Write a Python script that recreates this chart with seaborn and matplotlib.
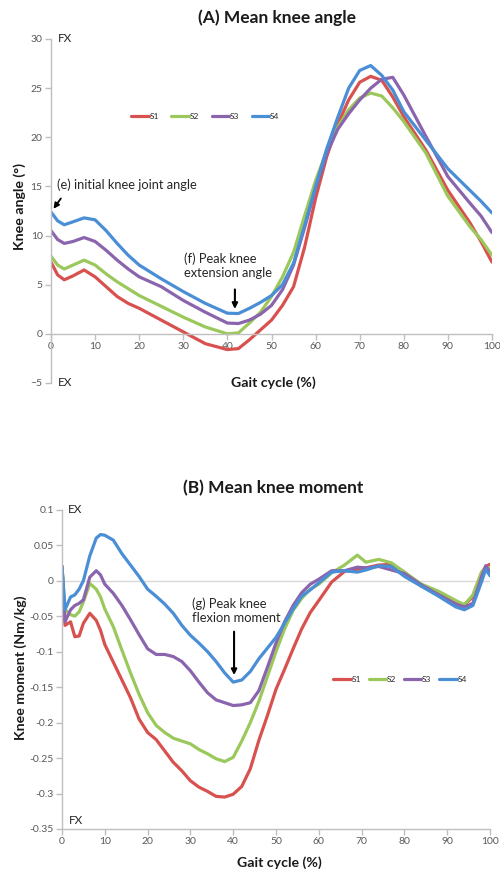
import numpy as np
import pandas as pd
import matplotlib
matplotlib.use("Agg")
import matplotlib.pyplot as plt
import seaborn as sns

# ---------------- data ----------------
series = ["S1", "S2", "S3", "S4"]
colors = ["#D9514E", "#9BC85A", "#8B64AE", "#4A8ED6"]

angle_x = [0, 1.5, 3, 5, 7.5, 10, 12.5, 15, 17.5, 20, 25, 30, 35, 40, 42.5, 45, 47.5,
           50, 52.5, 55, 57.5, 60, 62.5, 65, 67.5, 70, 72.5, 75, 77.5, 80, 85, 90, 95, 97.5, 100]
angle_s1 = [7.3, 6.0, 5.5, 5.9, 6.5, 5.8, 4.8, 3.8, 3.1, 2.6, 1.4, 0.2, -1.0, -1.6, -1.5, -0.6, 0.4,
            1.4, 2.9, 4.8, 8.8, 13.8, 18.0, 21.3, 23.8, 25.6, 26.2, 25.8, 24.1, 22.1, 18.7, 14.6, 11.3, 9.4, 7.3]
angle_s2 = [7.9, 7.0, 6.6, 7.0, 7.5, 7.0, 6.1, 5.3, 4.6, 3.9, 2.8, 1.7, 0.7, 0.0, 0.1, 1.1, 2.2,
            3.8, 5.8, 8.3, 12.0, 15.6, 18.6, 21.0, 22.8, 24.0, 24.5, 24.2, 23.0, 21.6, 18.4, 14.0, 10.9, 9.6, 8.0]
angle_s3 = [10.5, 9.6, 9.2, 9.4, 9.8, 9.4, 8.5, 7.5, 6.6, 5.8, 4.8, 3.4, 2.2, 1.1, 1.05, 1.4, 2.0,
            2.9, 4.5, 7.0, 10.8, 14.8, 18.3, 20.8, 22.4, 23.8, 25.0, 25.9, 26.1, 24.3, 20.1, 16.0, 13.3, 12.0, 10.3]
angle_s4 = [12.4, 11.5, 11.1, 11.4, 11.8, 11.6, 10.5, 9.2, 8.0, 7.0, 5.6, 4.3, 3.1, 2.1, 2.07, 2.6, 3.2,
            3.9, 5.0, 7.2, 11.0, 15.0, 18.8, 22.0, 25.0, 26.8, 27.3, 26.3, 24.8, 22.6, 19.7, 16.8, 14.6, 13.5, 12.3]

moment_x = [0, 0.7, 2, 3, 4, 5, 6.5, 8, 9, 10, 12, 14, 16, 18, 20, 22, 24, 26, 28, 30, 32, 34, 36, 38,
            40, 42, 44, 46, 48, 50, 52, 54, 56, 58, 60, 63, 66, 69, 71, 74, 77, 80, 84, 88, 92, 94, 96, 98, 99, 100]
moment_s1 = [0.020, -0.063, -0.058, -0.079, -0.078, -0.060, -0.046, -0.056, -0.070, -0.090, -0.115, -0.140,
             -0.165, -0.195, -0.214, -0.224, -0.240, -0.256, -0.268, -0.282, -0.291, -0.297, -0.304, -0.305,
             -0.301, -0.290, -0.265, -0.225, -0.190, -0.153, -0.125, -0.096, -0.068, -0.045, -0.028, -0.002,
             0.013, 0.016, 0.018, 0.022, 0.023, 0.012, -0.008, -0.017, -0.030, -0.034, -0.023, 0.005, 0.020, 0.023]
moment_s2 = [0.020, -0.041, -0.048, -0.050, -0.044, -0.030, -0.004, -0.012, -0.023, -0.040, -0.065, -0.098,
             -0.130, -0.160, -0.186, -0.204, -0.214, -0.222, -0.226, -0.230, -0.238, -0.244, -0.251, -0.255,
             -0.249, -0.226, -0.200, -0.170, -0.135, -0.100, -0.068, -0.042, -0.025, -0.012, -0.005, 0.011,
             0.022, 0.036, 0.026, 0.030, 0.025, 0.012, -0.005, -0.015, -0.028, -0.034, -0.020, 0.012, 0.019, 0.018]
moment_s3 = [0.020, -0.058, -0.041, -0.035, -0.032, -0.027, 0.005, 0.014, 0.008, -0.005, -0.018, -0.035,
             -0.055, -0.076, -0.096, -0.104, -0.104, -0.107, -0.114, -0.127, -0.143, -0.158, -0.168, -0.172,
             -0.176, -0.175, -0.172, -0.155, -0.122, -0.088, -0.058, -0.035, -0.017, -0.005, 0.002, 0.014,
             0.014, 0.019, 0.018, 0.020, 0.015, 0.010, -0.006, -0.020, -0.033, -0.037, -0.032, 0.005, 0.021, 0.012]
moment_s4 = [0.020, -0.041, -0.023, -0.020, -0.012, 0.000, 0.035, 0.060, 0.065, 0.064, 0.057, 0.038,
             0.022, 0.006, -0.012, -0.022, -0.033, -0.046, -0.063, -0.077, -0.088, -0.100, -0.114, -0.130,
             -0.143, -0.140, -0.128, -0.110, -0.095, -0.080, -0.060, -0.040, -0.022, -0.013, -0.003, 0.012,
             0.014, 0.012, 0.015, 0.021, 0.020, 0.006, -0.008, -0.022, -0.037, -0.041, -0.035, -0.002, 0.016, 0.007]

angle_ticks_y = [-5, 0, 5, 10, 15, 20, 25, 30]
moment_ticks_y = [-0.35, -0.3, -0.25, -0.2, -0.15, -0.1, -0.05, 0, 0.05, 0.1]
moment_tick_labels = ["-0.35", "-0.3", "-0.25", "-0.2", "-0.15", "-0.1", "-0.05", "0", "0.05", "0.1"]
x_ticks = [0, 10, 20, 30, 40, 50, 60, 70, 80, 90, 100]


def long_df(x, ys):
    rows = []
    for name, y in zip(series, ys):
        rows.append(pd.DataFrame({"x": x, "y": y, "series": name}))
    return pd.concat(rows, ignore_index=True)


df_angle = long_df(angle_x, [angle_s1, angle_s2, angle_s3, angle_s4])
df_moment = long_df(moment_x, [moment_s1, moment_s2, moment_s3, moment_s4])

# ---------------- style ----------------
sns.set_theme(style="white")
plt.rcParams["font.family"] = ["Lato", "DejaVu Sans"]

GRAY = "#BFBFBF"
TICKC = "#595959"
TXT = "#262626"
W, H = 500, 874

fig = plt.figure(figsize=(5.0, 8.74), dpi=100)


def fx(px):
    return px / W


def fy(py):
    return 1 - py / H


palette = dict(zip(series, colors))

# ---------------- top: knee angle ----------------
ax1 = fig.add_axes([fx(51), fy(383), (492 - 51) / W, (383 - 39) / H])
sns.lineplot(data=df_angle, x="x", y="y", hue="series", palette=palette,
             estimator=None, sort=False, lw=2.3, ax=ax1)
ax1.set_xlim(0, 100)
ax1.set_ylim(-5, 30)
ax1.set_xticks(x_ticks)
ax1.set_yticks(angle_ticks_y)
for s in ["top", "right"]:
    ax1.spines[s].set_visible(False)
ax1.spines["bottom"].set_position(("data", 0))
for s in ["left", "bottom"]:
    ax1.spines[s].set_color(GRAY)
    ax1.spines[s].set_linewidth(1.0)
ax1.tick_params(axis="both", direction="out", length=4, width=1, color=GRAY,
                labelsize=7.5, labelcolor=TICKC, pad=2)
ax1.tick_params(axis="x", bottom=True)
ax1.tick_params(axis="y", left=True)
ax1.set_xlabel("")
ax1.set_ylabel("")
leg1 = ax1.legend(ncol=4, loc="center", bbox_to_anchor=(0.35, 0.776), frameon=False,
                  fontsize=6, handlelength=2.1, handletextpad=0.1, columnspacing=1.5)
for h in leg1.get_lines():
    h.set_linewidth(2.3)

ax1.text(1.6, 30, "FX", fontsize=8.5, va="center", ha="left", color=TXT)
ax1.text(1.6, -5, "EX", fontsize=8.5, va="center", ha="left", color=TXT)
ax1.text(1.3, 15.2, "(e) initial knee joint angle", fontsize=9.3, va="center", ha="left", color=TXT)
ax1.annotate("", xy=(0.2, 12.5), xytext=(2.6, 14.0),
             arrowprops=dict(arrowstyle="-|>", color="black", lw=1.3, mutation_scale=8))
ax1.text(30.1, 6.95, "(f) Peak knee\nextension angle", fontsize=9.3, va="center", ha="left",
         color=TXT, linespacing=1.25)
ax1.annotate("", xy=(41.7, 2.25), xytext=(41.7, 4.8),
             arrowprops=dict(arrowstyle="-|>", color="black", lw=1.5, mutation_scale=8))

# ---------------- bottom: knee moment ----------------
ax2 = fig.add_axes([fx(62), fy(829), (490 - 62) / W, (829 - 509.7) / H])
ax2.axhline(0, color="#D9D9D9", lw=1.0, zorder=0)
sns.lineplot(data=df_moment, x="x", y="y", hue="series", palette=palette,
             estimator=None, sort=False, lw=2.3, ax=ax2)
ax2.set_xlim(0, 100)
ax2.set_ylim(-0.35, 0.1)
ax2.set_xticks(x_ticks)
ax2.set_yticks(moment_ticks_y)
ax2.set_yticklabels(moment_tick_labels)
for s in ["top", "right"]:
    ax2.spines[s].set_visible(False)
for s in ["left", "bottom"]:
    ax2.spines[s].set_color(GRAY)
    ax2.spines[s].set_linewidth(1.0)
ax2.tick_params(axis="both", direction="out", length=4, width=1, color=GRAY,
                labelsize=7.5, labelcolor=TICKC, pad=2)
ax2.tick_params(axis="x", bottom=True)
ax2.tick_params(axis="y", left=True)
ax2.set_xlabel("")
ax2.set_ylabel("")
leg2 = ax2.legend(ncol=4, loc="center", bbox_to_anchor=(0.79, 0.467), frameon=False,
                  fontsize=6, handlelength=2.1, handletextpad=0.1, columnspacing=0.9)
for h in leg2.get_lines():
    h.set_linewidth(2.3)

ax2.text(1.4, 0.1, "EX", fontsize=8.5, va="center", ha="left", color=TXT)
ax2.text(1.5, -0.338, "FX", fontsize=8.5, va="center", ha="left", color=TXT)
ax2.text(30.4, -0.0426, "(g) Peak knee\nflexion moment", fontsize=9.3, va="center", ha="left",
         color=TXT, linespacing=1.25)
ax2.annotate("", xy=(40.2, -0.137), xytext=(40.2, -0.068),
             arrowprops=dict(arrowstyle="-|>", color="black", lw=1.5, mutation_scale=8))

# ---------------- titles & labels ----------------
fig.text(fx(277), fy(18), "(A) Mean knee angle", fontsize=12.5, fontweight="bold",
         ha="center", va="center", color="#1a1a1a")
fig.text(fx(273), fy(488), "(B) Mean knee moment", fontsize=12.5, fontweight="bold",
         ha="center", va="center", color="#1a1a1a")
fig.text(fx(273), fy(383), "Gait cycle (%)", fontsize=10.2, fontweight="bold",
         ha="center", va="center", color="#1a1a1a")
fig.text(fx(279), fy(863), "Gait cycle (%)", fontsize=10.2, fontweight="bold",
         ha="center", va="center", color="#1a1a1a")
fig.text(fx(20), fy(207), "Knee angle (°)", fontsize=10.2, fontweight="bold",
         ha="center", va="center", rotation=90, color="#1a1a1a")
fig.text(fx(21), fy(668), "Knee moment (Nm/kg)", fontsize=10.2, fontweight="bold",
         ha="center", va="center", rotation=90, color="#1a1a1a")

fig.savefig("out.png", dpi=100, facecolor="white")
